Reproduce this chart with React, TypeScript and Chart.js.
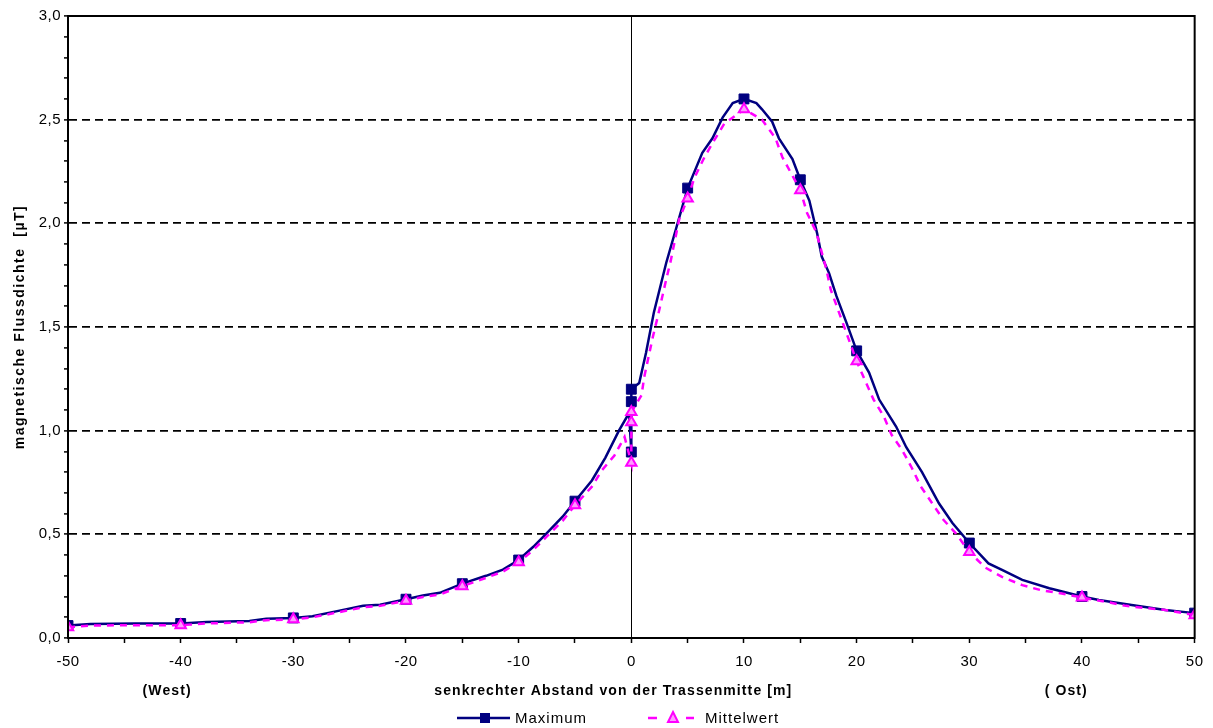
import React, { useEffect, useRef } from 'react';
import { Chart, registerables } from 'chart.js';

Chart.register(...registerables);

const FONT = "'Liberation Sans', Arial, sans-serif";

// Maximum series (distance in m, flux density in µT)
const maxX = [-50, -48, -44, -40, -37.7, -33.9, -32.4, -30, -28.3, -25.9, -23.8, -22.3, -20, -18.5, -17, -15, -12.9, -11.4, -10, -8.7, -7.5, -6.1, -5, -3.5, -2.3, -1.1, -0.2, 0, 0, 0, 0.7, 1.3, 2.0, 3.1, 4.0, 5, 6.3, 7.2, 8.1, 9.0, 10, 11.1, 11.6, 12.5, 13.1, 14.3, 15, 15.8, 16.5, 16.9, 17.55, 18.2, 19.1, 20, 21.1, 22.0, 23.5, 24.4, 25.8, 27.3, 28.5, 30, 31.7, 32.9, 34.7, 37.1, 40, 41.5, 44.4, 47.4, 50];
const maxY = [0.06, 0.068, 0.07, 0.07, 0.077, 0.082, 0.093, 0.097, 0.105, 0.132, 0.155, 0.16, 0.187, 0.205, 0.218, 0.262, 0.30, 0.33, 0.376, 0.44, 0.506, 0.585, 0.66, 0.76, 0.87, 1.0, 1.085, 0.897, 1.14, 1.2, 1.23, 1.375, 1.57, 1.81, 1.98, 2.17, 2.34, 2.41, 2.51, 2.58, 2.6, 2.58, 2.55, 2.49, 2.41, 2.31, 2.21, 2.11, 1.95, 1.84, 1.76, 1.65, 1.52, 1.385, 1.28, 1.15, 1.02, 0.92, 0.80, 0.65, 0.555, 0.458, 0.36, 0.328, 0.28, 0.24, 0.2, 0.183, 0.159, 0.135, 0.12];

// Mittelwert series
const meanX = [-50, -48, -44, -40, -37.7, -33.9, -32.4, -30, -28.3, -25.9, -23.8, -22.3, -20, -18.5, -17, -15, -12.9, -11.4, -10, -8.7, -7.5, -6.1, -5, -3.5, -2.6, -1.5, -0.6, 0, 0, 0, 0.9, 1.15, 1.9, 2.3, 3.1, 3.5, 4.25, 5, 5.6, 6.5, 7.35, 8.25, 10, 11.6, 12.8, 13.4, 14.3, 15, 15.6, 16.4, 17.3, 17.7, 18.3, 18.9, 20, 20.8, 21.5, 22.4, 23.1, 24.0, 24.9, 25.7, 26.7, 27.7, 28.8, 30, 31.4, 32.9, 34.7, 36.4, 38.2, 40, 42.1, 43.9, 45.6, 47.4, 50];
const meanY = [0.052, 0.06, 0.062, 0.062, 0.07, 0.076, 0.086, 0.09, 0.1, 0.125, 0.148, 0.155, 0.18, 0.198, 0.21, 0.25, 0.29, 0.32, 0.365, 0.425, 0.49, 0.565, 0.64, 0.73, 0.81, 0.88, 0.97, 0.845, 1.04, 1.09, 1.17, 1.26, 1.45, 1.54, 1.73, 1.82, 2.02, 2.12, 2.22, 2.32, 2.40, 2.48, 2.55, 2.50, 2.41, 2.32, 2.23, 2.16, 2.05, 1.96, 1.78, 1.68, 1.59, 1.50, 1.335, 1.235, 1.15, 1.07, 0.98, 0.91, 0.82, 0.73, 0.65, 0.57, 0.505, 0.415, 0.34, 0.295, 0.255, 0.23, 0.215, 0.195, 0.175, 0.155, 0.145, 0.135, 0.11];

// Distances that carry a marker
const markerX = [-50, -40, -30, -20, -15, -10, -5, 0, 5, 10, 15, 20, 30, 40, 50];

// Labels
const seriesNames = ['Maximum', 'Mittelwert'];
const yTitle = 'magnetische Flussdichte  [µT]';
const xTitle = 'senkrechter Abstand von der Trassenmitte [m]';
const westLabel = '(West)';
const eastLabel = '( Ost)';

const NAVY = '#000080';
const MAGENTA = '#FF00FF';
const PINK = '#FF99FF';

const isHalf = (v: number) => Math.abs(v * 2 - Math.round(v * 2)) < 1e-6;
const isTen = (v: number) => Math.abs(v / 10 - Math.round(v / 10)) < 1e-6;

const decorPlugin = {
  id: 'decor',
  beforeDraw(chart: any) {
    (chart.ctx as any).letterSpacing = '0.5px';
  },
  beforeDatasetsDraw(chart: any) {
    const { ctx, chartArea, scales } = chart;
    const x0 = Math.round(scales.x.getPixelForValue(0)) + 0.5;
    ctx.save();
    ctx.strokeStyle = '#000';
    ctx.lineWidth = 1;
    ctx.setLineDash([]);
    ctx.beginPath();
    ctx.moveTo(x0, chartArea.top);
    ctx.lineTo(x0, chartArea.bottom);
    ctx.stroke();
    ctx.restore();
  },
  afterDraw(chart: any) {
    const { ctx, chartArea, scales } = chart;
    ctx.save();
    // frame
    ctx.strokeStyle = '#000';
    ctx.lineWidth = 2;
    ctx.setLineDash([]);
    ctx.strokeRect(chartArea.left, chartArea.top, chartArea.right - chartArea.left, chartArea.bottom - chartArea.top);

    // x titles
    ctx.fillStyle = '#000';
    ctx.font = `bold 14px ${FONT}`;
    (ctx as any).letterSpacing = '1.1px';
    ctx.textAlign = 'center';
    ctx.textBaseline = 'middle';
    const ty = 691;
    ctx.fillText(westLabel, scales.x.getPixelForValue(-41.2), ty);
    ctx.fillText(xTitle, scales.x.getPixelForValue(-1.6), ty);
    ctx.fillText(eastLabel, scales.x.getPixelForValue(38.6), ty);

    // y title
    (ctx as any).letterSpacing = '1.5px';
    ctx.save();
    ctx.translate(20, (chartArea.top + chartArea.bottom) / 2);
    ctx.rotate(-Math.PI / 2);
    ctx.fillText(yTitle, 0, 0);
    ctx.restore();

    // legend
    const ly = 718;
    ctx.lineWidth = 2.5;
    ctx.strokeStyle = NAVY;
    ctx.beginPath();
    ctx.moveTo(457, ly);
    ctx.lineTo(510, ly);
    ctx.stroke();
    ctx.fillStyle = NAVY;
    ctx.fillRect(480, ly - 5, 10, 10);

    ctx.strokeStyle = MAGENTA;
    ctx.beginPath();
    ctx.moveTo(648, ly);
    ctx.lineTo(657, ly);
    ctx.moveTo(686, ly);
    ctx.lineTo(694, ly);
    ctx.stroke();
    ctx.beginPath();
    ctx.moveTo(673, ly - 6);
    ctx.lineTo(678, ly + 4);
    ctx.lineTo(668, ly + 4);
    ctx.closePath();
    ctx.fillStyle = PINK;
    ctx.fill();
    ctx.lineWidth = 2;
    ctx.stroke();

    ctx.fillStyle = '#000';
    ctx.font = `15px ${FONT}`;
    (ctx as any).letterSpacing = '1px';
    ctx.textAlign = 'left';
    ctx.fillText(seriesNames[0], 515, ly + 1);
    ctx.fillText(seriesNames[1], 705, ly + 1);
    ctx.restore();
  },
};

export default function App() {
  const canvasRef = useRef<HTMLCanvasElement | null>(null);

  useEffect(() => {
    document.body.style.margin = '0';
    const canvas = canvasRef.current;
    if (!canvas) return;
    const chart = new Chart(canvas, {
      type: 'line',
      data: {
        datasets: [
          {
            label: seriesNames[0],
            data: maxX.map((x, i) => ({ x, y: maxY[i] })),
            borderColor: NAVY,
            backgroundColor: NAVY,
            borderWidth: 2.5,
            pointStyle: 'rect',
            pointRadius: maxX.map((x) => (markerX.includes(x) ? 7 : 0)),
            pointBackgroundColor: NAVY,
            pointBorderColor: NAVY,
            pointBorderWidth: 1,
            tension: 0,
            order: 1,
          },
          {
            label: seriesNames[1],
            data: meanX.map((x, i) => ({ x, y: meanY[i] })),
            borderColor: MAGENTA,
            backgroundColor: PINK,
            borderWidth: 2.5,
            borderDash: [7, 6],
            pointStyle: 'triangle',
            pointRadius: meanX.map((x) => (markerX.includes(x) ? 6 : 0)),
            pointBackgroundColor: PINK,
            pointBorderColor: MAGENTA,
            pointBorderWidth: 2,
            tension: 0,
            order: 0,
          },
        ],
      },
      options: {
        animation: false,
        responsive: false,
        maintainAspectRatio: false,
        layout: { padding: { top: 16, right: 17, left: 0, bottom: 0 } },
        plugins: {
          legend: { display: false },
          tooltip: { enabled: false },
          title: { display: false },
        },
        scales: {
          x: {
            type: 'linear',
            min: -50,
            max: 50,
            afterFit: (scale: any) => {
              scale.height = 90;
            },
            border: { display: true, color: '#000', width: 2 },
            grid: {
              drawOnChartArea: false,
              drawTicks: true,
              tickLength: 5,
              tickColor: '#000',
              tickWidth: 1.5,
            },
            ticks: {
              stepSize: 5,
              autoSkip: false,
              maxRotation: 0,
              padding: 10,
              color: '#000',
              font: { family: FONT, size: 15 },
              callback: (v: any) => (isTen(Number(v)) ? String(Math.round(Number(v))) : ''),
            },
          },
          y: {
            type: 'linear',
            min: 0,
            max: 3,
            afterFit: (scale: any) => {
              scale.width = 68;
            },
            border: { display: true, color: '#000', width: 2, dash: [8, 5] },
            grid: {
              drawOnChartArea: true,
              drawTicks: true,
              tickLength: 4,
              lineWidth: 1.8,
              tickWidth: 1.5,
              tickColor: '#000',
              color: (c: any) => {
                const v = c.tick ? c.tick.value : 0;
                return isHalf(v) && v > 0.01 && v < 2.99 ? '#000' : 'rgba(0,0,0,0)';
              },
            },
            ticks: {
              stepSize: 0.1,
              maxTicksLimit: 100,
              autoSkip: false,
              padding: 3,
              color: '#000',
              font: { family: FONT, size: 15 },
              callback: (v: any) => (isHalf(Number(v)) ? Number(v).toFixed(1).replace('.', ',') : ''),
            },
          },
        },
      },
      plugins: [decorPlugin],
    } as any);
    return () => chart.destroy();
  }, []);

  return (
    <div style={{ width: 1213, height: 728, position: 'relative' }}>
      <canvas ref={canvasRef} width={1213} height={728} style={{ display: 'block' }} />
    </div>
  );
}
